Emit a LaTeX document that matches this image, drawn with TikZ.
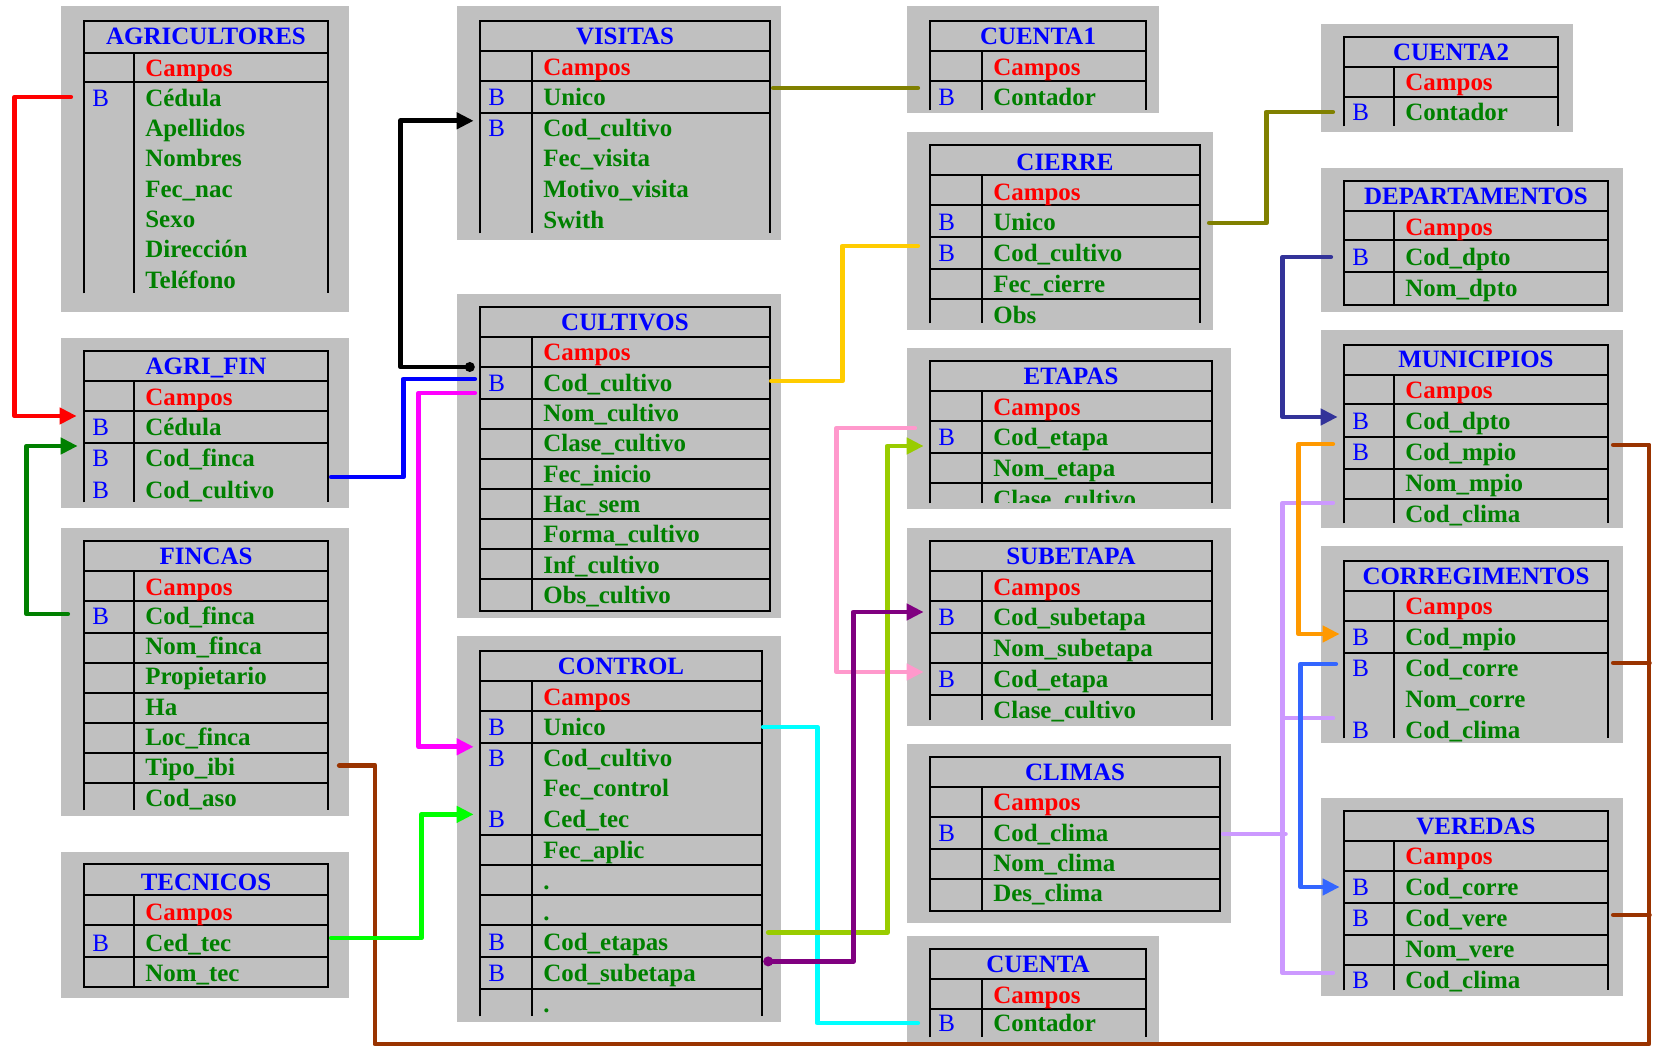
\documentclass[tikz,border=0pt]{standalone}
\usepackage{fontspec}
\setmainfont{Liberation Serif}[Scale=1.42]
\usetikzlibrary{arrows.meta,calc,fit}
\definecolor{tabgray}{RGB}{192,192,192}
\definecolor{ttlblue}{RGB}{0,0,255}
\definecolor{hdrred}{RGB}{255,0,0}
\definecolor{fldgreen}{RGB}{0,128,0}
\definecolor{lnred}{RGB}{255,0,0}
\definecolor{lngreen}{RGB}{0,128,0}
\definecolor{lnblue}{RGB}{0,0,255}
\definecolor{lnmagenta}{RGB}{255,0,255}
\definecolor{lnlime}{RGB}{0,255,0}
\definecolor{lnbrown}{RGB}{153,51,0}
\definecolor{lnolive}{RGB}{128,128,0}
\definecolor{lnyellow}{RGB}{255,204,0}
\definecolor{lncyan}{RGB}{0,255,255}
\definecolor{lnygreen}{RGB}{153,204,0}
\definecolor{lnpurple}{RGB}{128,0,128}
\definecolor{lnpink}{RGB}{255,153,204}
\definecolor{lnnavy}{RGB}{51,51,153}
\definecolor{lnorange}{RGB}{255,153,0}
\definecolor{lnsky}{RGB}{51,102,255}
\definecolor{lnlilac}{RGB}{204,153,255}
\begin{document}
\begin{tikzpicture}[x=0.02cm, y=-0.02cm,
  panel/.style={fill=tabgray, inner sep=0pt},
  tabframe/.style={inner sep=0pt},
  gridln/.style={line width=1.1pt},
  ttl/.style={inner sep=0pt, font=\bfseries, text=ttlblue, text height=0.75em, text depth=0.09em},
  fld/.style={anchor=west, inner sep=0pt, font=\bfseries, text=fldgreen, text height=0.75em, text depth=0.09em},
  hdr/.style={fld, text=hdrred},
  bkey/.style={anchor=west, inner sep=0pt, text=ttlblue, text height=0.75em, text depth=0.09em},
  link/.style={line width=2.8pt, line cap=round, line join=round},
  arr/.style={-{Triangle[length=0.34cm, width=0.32cm]}},
  dotarr/.style={{Circle[length=5.5pt]}-{Triangle[length=0.34cm, width=0.32cm]}}]
\useasboundingbox (0,0) rectangle (1658,1047);

% AGRICULTORES
\node[panel, fit={(61,6) (349,312)}] (agri-bg) {};
\node[tabframe, fit={(84,21) (328,293)}] (agri) {};
\draw[gridln] (agri.south west) |- (agri.north east) -- (agri.south east);
\draw[gridln] (84,53) -- (328,53) (84,82) -- (328,82) (134,53) -- (134,293);
\node[ttl] (agri-t) at (206,36) {AGRICULTORES};
\node[hdr] (agri-c) at (145,68) {Campos};
\foreach \k/\f [count=\i] in {B/Cédula, /Apellidos, /Nombres, /Fec\_nac, /Sexo, /Dirección, /Teléfono}
  {\node[bkey] (agri-b\i) at (92,{98+30.3*(\i-1)}) {\k};
   \node[fld] (agri-\i) at (145,{98+30.3*(\i-1)}) {\f};}

% AGRI_FIN
\node[panel, fit={(61,338) (349,508)}] (agrifin-bg) {};
\node[tabframe, fit={(84,351) (328,502)}] (agrifin) {};
\draw[gridln] (agrifin.south west) |- (agrifin.north east) -- (agrifin.south east);
\draw[gridln] (84,381) -- (328,381) (84,411) -- (328,411) (84,443) -- (328,443) (134,381) -- (134,502);
\node[ttl] (agrifin-t) at (206,366) {AGRI\_FIN};
\node[hdr] (agrifin-c) at (145,397) {Campos};
\foreach \k/\f [count=\i] in {B/Cédula, B/Cod\_finca, B/Cod\_cultivo}
  {\node[bkey] (agrifin-b\i) at (92,{427+31.5*(\i-1)}) {\k};
   \node[fld] (agrifin-\i) at (145,{427+31.5*(\i-1)}) {\f};}

% FINCAS
\node[panel, fit={(61,528) (349,816)}] (fincas-bg) {};
\node[tabframe, fit={(84,541) (328,810)}] (fincas) {};
\draw[gridln] (fincas.south west) |- (fincas.north east) -- (fincas.south east);
\draw[gridln] (84,571) -- (328,571) (84,601) -- (328,601) (84,633) -- (328,633) (84,663) -- (328,663)
  (84,693) -- (328,693) (84,723) -- (328,723) (84,753) -- (328,753) (84,783) -- (328,783) (134,571) -- (134,810);
\node[ttl] (fincas-t) at (206,556) {FINCAS};
\node[hdr] (fincas-c) at (145,587) {Campos};
\foreach \k/\f [count=\i] in {B/Cod\_finca, /Nom\_finca, /Propietario, /Ha, /Loc\_finca, /Tipo\_ibi, /Cod\_aso}
  {\node[bkey] (fincas-b\i) at (92,{616+30.3*(\i-1)}) {\k};
   \node[fld] (fincas-\i) at (145,{616+30.3*(\i-1)}) {\f};}

% TECNICOS
\node[panel, fit={(61,852) (349,998)}] (tecnicos-bg) {};
\node[tabframe, fit={(84,864) (328,987)}] (tecnicos) {};
\draw[gridln] (tecnicos.south west) rectangle (tecnicos.north east);
\draw[gridln] (84,895) -- (328,895) (84,925) -- (328,925) (84,957) -- (328,957) (134,895) -- (134,987);
\node[ttl] (tecnicos-t) at (206,882) {TECNICOS};
\node[hdr] (tecnicos-c) at (145,912) {Campos};
\foreach \k/\f [count=\i] in {B/Ced\_tec, /Nom\_tec}
  {\node[bkey] (tecnicos-b\i) at (92,{943+30*(\i-1)}) {\k};
   \node[fld] (tecnicos-\i) at (145,{943+30*(\i-1)}) {\f};}

% VISITAS
\node[panel, fit={(457,6) (781,240)}] (visitas-bg) {};
\node[tabframe, fit={(480,21) (770,233)}] (visitas) {};
\draw[gridln] (visitas.south west) |- (visitas.north east) -- (visitas.south east);
\draw[gridln] (480,51) -- (770,51) (480,81) -- (770,81) (480,113) -- (770,113) (532,51) -- (532,233);
\node[ttl] (visitas-t) at (625,36) {VISITAS};
\node[hdr] (visitas-c) at (543,67) {Campos};
\foreach \k/\f [count=\i] in {B/Unico, B/Cod\_cultivo, /Fec\_visita, /Motivo\_visita, /Swith}
  {\node[bkey] (visitas-b\i) at (488,{97+30.8*(\i-1)}) {\k};
   \node[fld] (visitas-\i) at (543,{97+30.8*(\i-1)}) {\f};}

% CULTIVOS
\node[panel, fit={(457,294) (781,618)}] (cultivos-bg) {};
\node[tabframe, fit={(480,307) (770,611)}] (cultivos) {};
\draw[gridln] (cultivos.south west) rectangle (cultivos.north east);
\draw[gridln] (480,337) -- (770,337) (480,367) -- (770,367) (480,399) -- (770,399) (480,429) -- (770,429)
  (480,459) -- (770,459) (480,489) -- (770,489) (480,519) -- (770,519) (480,549) -- (770,549)
  (480,579) -- (770,579) (532,337) -- (532,611);
\node[ttl] (cultivos-t) at (625,322) {CULTIVOS};
\node[hdr] (cultivos-c) at (543,352) {Campos};
\foreach \k/\f [count=\i] in {B/Cod\_cultivo, /Nom\_cultivo, /Clase\_cultivo, /Fec\_inicio, /Hac\_sem, /Forma\_cultivo, /Inf\_cultivo, /Obs\_cultivo}
  {\node[bkey] (cultivos-b\i) at (488,{383+30.3*(\i-1)}) {\k};
   \node[fld] (cultivos-\i) at (543,{383+30.3*(\i-1)}) {\f};}

% CONTROL
\node[panel, fit={(457,636) (781,1022)}] (control-bg) {};
\node[tabframe, fit={(480,651) (762,1016)}] (control) {};
\draw[gridln] (control.south west) |- (control.north east) -- (control.south east);
\draw[gridln] (480,681) -- (762,681) (480,711) -- (762,711) (480,743) -- (762,743) (480,835) -- (762,835)
  (480,865) -- (762,865) (480,895) -- (762,895) (480,925) -- (762,925) (480,957) -- (762,957)
  (480,989) -- (762,989) (532,681) -- (532,1016);
\node[ttl] (control-t) at (621,666) {CONTROL};
\node[hdr] (control-c) at (543,697) {Campos};
\foreach \k/\f [count=\i] in {B/Unico, B/Cod\_cultivo, /Fec\_control, B/Ced\_tec, /Fec\_aplic, /., /., B/Cod\_etapas, B/Cod\_subetapa, /.}
  {\node[bkey] (control-b\i) at (488,{727+30.8*(\i-1)}) {\k};
   \node[fld] (control-\i) at (543,{727+30.8*(\i-1)}) {\f};}

% CUENTA1
\node[panel, fit={(907,6) (1159,113)}] (cuenta1-bg) {};
\node[tabframe, fit={(930,21) (1146,110)}] (cuenta1) {};
\draw[gridln] (cuenta1.south west) |- (cuenta1.north east) -- (cuenta1.south east);
\draw[gridln] (930,51) -- (1146,51) (930,81) -- (1146,81) (982,51) -- (982,110);
\node[ttl] (cuenta1-t) at (1038,36) {CUENTA1};
\node[hdr] (cuenta1-c) at (993,67) {Campos};
\node[bkey] (cuenta1-b1) at (938,97) {B};
\node[fld] (cuenta1-1) at (993,97) {Contador};

% CIERRE
\node[panel, fit={(907,132) (1213,330)}] (cierre-bg) {};
\node[tabframe, fit={(930,145) (1200,323)}] (cierre) {};
\draw[gridln] (cierre.south west) |- (cierre.north east) -- (cierre.south east);
\draw[gridln] (930,175) -- (1200,175) (930,205) -- (1200,205) (930,237) -- (1200,237) (930,269) -- (1200,269)
  (930,299) -- (1200,299) (982,175) -- (982,323);
\node[ttl] (cierre-t) at (1065,162) {CIERRE};
\node[hdr] (cierre-c) at (993,192) {Campos};
\foreach \k/\f [count=\i] in {B/Unico, B/Cod\_cultivo, /Fec\_cierre, /Obs}
  {\node[bkey] (cierre-b\i) at (938,{222+31*(\i-1)}) {\k};
   \node[fld] (cierre-\i) at (993,{222+31*(\i-1)}) {\f};}

% ETAPAS
\node[panel, fit={(907,348) (1231,509)}] (etapas-bg) {};
\node[tabframe, fit={(930,361) (1212,503)}] (etapas) {};
\draw[gridln] (etapas.south west) |- (etapas.north east) -- (etapas.south east);
\draw[gridln] (930,391) -- (1212,391) (930,421) -- (1212,421) (930,453) -- (1212,453) (930,483) -- (1212,483)
  (982,391) -- (982,503);
\node[ttl] (etapas-t) at (1071,376) {ETAPAS};
\node[hdr] (etapas-c) at (993,407) {Campos};
\begin{scope}
  \clip (907,348) rectangle (1231,503);
  \foreach \k/\f [count=\i] in {B/Cod\_etapa, /Nom\_etapa, /Clase\_cultivo}
    {\node[bkey] (etapas-b\i) at (938,{437+31*(\i-1)}) {\k};
     \node[fld] (etapas-\i) at (993,{437+31*(\i-1)}) {\f};}
\end{scope}

% SUBETAPA
\node[panel, fit={(907,528) (1231,726)}] (subetapa-bg) {};
\node[tabframe, fit={(930,541) (1212,720)}] (subetapa) {};
\draw[gridln] (subetapa.south west) |- (subetapa.north east) -- (subetapa.south east);
\draw[gridln] (930,571) -- (1212,571) (930,601) -- (1212,601) (930,633) -- (1212,633) (930,663) -- (1212,663)
  (930,695) -- (1212,695) (982,571) -- (982,720);
\node[ttl] (subetapa-t) at (1071,556) {SUBETAPA};
\node[hdr] (subetapa-c) at (993,587) {Campos};
\foreach \k/\f [count=\i] in {B/Cod\_subetapa, /Nom\_subetapa, B/Cod\_etapa, /Clase\_cultivo}
  {\node[bkey] (subetapa-b\i) at (938,{617+31*(\i-1)}) {\k};
   \node[fld] (subetapa-\i) at (993,{617+31*(\i-1)}) {\f};}

% CLIMAS
\node[panel, fit={(907,744) (1231,923)}] (climas-bg) {};
\node[tabframe, fit={(930,757) (1220,911)}] (climas) {};
\draw[gridln] (climas.south west) rectangle (climas.north east);
\draw[gridln] (930,787) -- (1220,787) (930,817) -- (1220,817) (930,849) -- (1220,849) (930,879) -- (1220,879)
  (982,787) -- (982,911);
\node[ttl] (climas-t) at (1075,772) {CLIMAS};
\node[hdr] (climas-c) at (993,802) {Campos};
\foreach \k/\f [count=\i] in {B/Cod\_clima, /Nom\_clima, /Des\_clima}
  {\node[bkey] (climas-b\i) at (938,{833+30*(\i-1)}) {\k};
   \node[fld] (climas-\i) at (993,{833+30*(\i-1)}) {\f};}

% CUENTA
\node[panel, fit={(907,936) (1159,1042)}] (cuenta-bg) {};
\node[tabframe, fit={(930,949) (1146,1037)}] (cuenta) {};
\draw[gridln] (cuenta.south west) |- (cuenta.north east) -- (cuenta.south east);
\draw[gridln] (930,979) -- (1146,979) (930,1009) -- (1146,1009) (982,979) -- (982,1037);
\node[ttl] (cuenta-t) at (1038,964) {CUENTA};
\node[hdr] (cuenta-c) at (993,995) {Campos};
\node[bkey] (cuenta-b1) at (938,1023) {B};
\node[fld] (cuenta-1) at (993,1023) {Contador};

% CUENTA2
\node[panel, fit={(1321,24) (1573,132)}] (cuenta2-bg) {};
\node[tabframe, fit={(1344,37) (1558,126)}] (cuenta2) {};
\draw[gridln] (cuenta2.south west) |- (cuenta2.north east) -- (cuenta2.south east);
\draw[gridln] (1344,67) -- (1558,67) (1344,97) -- (1558,97) (1394,67) -- (1394,126);
\node[ttl] (cuenta2-t) at (1451,52) {CUENTA2};
\node[hdr] (cuenta2-c) at (1405,82) {Campos};
\node[bkey] (cuenta2-b1) at (1352,112) {B};
\node[fld] (cuenta2-1) at (1405,112) {Contador};

% DEPARTAMENTOS
\node[panel, fit={(1321,168) (1623,312)}] (dptos-bg) {};
\node[tabframe, fit={(1344,181) (1608,305)}] (dptos) {};
\draw[gridln] (dptos.south west) rectangle (dptos.north east);
\draw[gridln] (1344,211) -- (1608,211) (1344,240) -- (1608,240) (1344,272) -- (1608,272) (1394,211) -- (1394,305);
\node[ttl] (dptos-t) at (1476,196) {DEPARTAMENTOS};
\node[hdr] (dptos-c) at (1405,227) {Campos};
\foreach \k/\f [count=\i] in {B/Cod\_dpto, /Nom\_dpto}
  {\node[bkey] (dptos-b\i) at (1352,{257+31*(\i-1)}) {\k};
   \node[fld] (dptos-\i) at (1405,{257+31*(\i-1)}) {\f};}

% MUNICIPIOS
\node[panel, fit={(1321,330) (1623,528)}] (mpios-bg) {};
\node[tabframe, fit={(1344,345) (1608,523)}] (mpios) {};
\draw[gridln] (mpios.south west) |- (mpios.north east) -- (mpios.south east);
\draw[gridln] (1344,375) -- (1608,375) (1344,404) -- (1608,404) (1344,437) -- (1608,437) (1344,469) -- (1608,469)
  (1344,499) -- (1608,499) (1394,375) -- (1394,523);
\node[ttl] (mpios-t) at (1476,359) {MUNICIPIOS};
\node[hdr] (mpios-c) at (1405,390) {Campos};
\foreach \k/\f [count=\i] in {B/Cod\_dpto, B/Cod\_mpio, /Nom\_mpio, /Cod\_clima}
  {\node[bkey] (mpios-b\i) at (1352,{421+31*(\i-1)}) {\k};
   \node[fld] (mpios-\i) at (1405,{421+31*(\i-1)}) {\f};}

% CORREGIMENTOS
\node[panel, fit={(1321,546) (1623,743)}] (corregs-bg) {};
\node[tabframe, fit={(1344,561) (1608,738)}] (corregs) {};
\draw[gridln] (corregs.south west) |- (corregs.north east) -- (corregs.south east);
\draw[gridln] (1344,591) -- (1608,591) (1344,621) -- (1608,621) (1344,653) -- (1608,653) (1394,591) -- (1394,738);
\node[ttl] (corregs-t) at (1476,576) {CORREGIMENTOS};
\node[hdr] (corregs-c) at (1405,606) {Campos};
\foreach \k/\f [count=\i] in {B/Cod\_mpio, B/Cod\_corre, /Nom\_corre, B/Cod\_clima}
  {\node[bkey] (corregs-b\i) at (1352,{637+31*(\i-1)}) {\k};
   \node[fld] (corregs-\i) at (1405,{637+31*(\i-1)}) {\f};}

% VEREDAS
\node[panel, fit={(1321,798) (1623,996)}] (veredas-bg) {};
\node[tabframe, fit={(1344,811) (1608,990)}] (veredas) {};
\draw[gridln] (veredas.south west) |- (veredas.north east) -- (veredas.south east);
\draw[gridln] (1344,841) -- (1608,841) (1344,871) -- (1608,871) (1344,903) -- (1608,903) (1344,935) -- (1608,935)
  (1344,965) -- (1608,965) (1394,841) -- (1394,990);
\node[ttl] (veredas-t) at (1476,826) {VEREDAS};
\node[hdr] (veredas-c) at (1405,856) {Campos};
\foreach \k/\f [count=\i] in {B/Cod\_corre, B/Cod\_vere, /Nom\_vere, B/Cod\_clima}
  {\node[bkey] (veredas-b\i) at (1352,{887+31*(\i-1)}) {\k};
   \node[fld] (veredas-\i) at (1405,{887+31*(\i-1)}) {\f};}

% relaciones
\coordinate (busL) at (375,1044);
\coordinate (busR) at (1649,1044);
\draw[link, lnred, arr] ($(agri-1 -| agri.west)+(-13,-1)$) -- ++(-56,0) |- ($(agrifin-1 -| agrifin.west)+(-7,-11)$);
\draw[link, lngreen, arr] ($(fincas-1 -| fincas.west)+(-16,-2)$) -- ++(-41,0) |- ($(agrifin-2 -| agrifin.west)+(-6,-12.5)$);
\draw[link, lnblue] ($(agrifin-3 -| agrifin.east)+(3,-13)$) -- ++(72,0) |- ($(cultivos-1 -| cultivos.west)+(-5,-4)$);
\draw[link, lnmagenta, arr] ($(cultivos-1 -| cultivos.west)+(-5,10)$) -- ++(-56,0) |- ($(control-2 -| control.west)+(-6,-11)$);
\draw[link, black, dotarr] ($(cultivos-1 -| cultivos.west)+(-5,-16)$) -- ++(-74,0) |- ($(visitas-2 -| visitas.west)+(-6,-7)$);
\draw[link, lnbrown] ($(fincas-6 -| fincas.east)+(11,-2)$) -| (busL) -- (busR) |- ($(mpios-2 -| mpios.east)+(5,-7)$);
\draw[link, lnbrown] ($(corregs-2 -| corregs.east)+(5,-5)$) -- ++(36,0);
\draw[link, lnbrown] ($(veredas-2 -| veredas.east)+(5,-3)$) -- ++(36,0);
\draw[link, lnlime, arr] ($(tecnicos-1 -| tecnicos.east)+(3,-5)$) -- ++(90,0) |- ($(control-4 -| control.west)+(-6,-5)$);
\draw[link, lnolive] ($(visitas-1 -| visitas.east)+(3,-9)$) -- ($(cuenta1-1 -| cuenta1.west)+(-12,-9)$);
\draw[link, lnyellow] ($(cultivos-1 -| cultivos.east)+(1,-2)$) -- ++(71,0) |- ($(cierre-2 -| cierre.west)+(-12,-7)$);
\draw[link, lnolive] ($(cierre-1 -| cierre.east)+(9,1)$) -- ++(57,0) |- ($(cuenta2-1 -| cuenta2.west)+(-11,0)$);
\draw[link, lnpink, arr] ($(etapas-1 -| etapas.west)+(-15,-9)$) -- ++(-78,0) |- ($(subetapa-3 -| subetapa.west)+(-6,-7)$);
\draw[link, lncyan] ($(control-1 -| control.east)+(1,0)$) -- ++(54,0) |- ($(cuenta-1 -| cuenta.west)+(-12,0)$);
\draw[link, lnygreen, arr] ($(control-8 -| control.east)+(6,-10)$) -- ++(119,0) |- ($(etapas-1 -| etapas.west)+(-6,9)$);
\draw[link, lnpurple, dotarr] ($(control-9 -| control.east)+(1,-12)$) -- ++(90,0) |- ($(subetapa-1 -| subetapa.west)+(-6,-5)$);
\draw[link, lnnavy, arr] ($(dptos-1 -| dptos.west)+(-13,0)$) -- ++(-48,0) |- ($(mpios-1 -| mpios.west)+(-6,-4)$);
\draw[link, lnlilac] ($(mpios-4 -| mpios.west)+(-11,-11)$) -- ++(-50,0) |- ($(veredas-4 -| veredas.west)+(-11,-7)$);
\draw[link, lnlilac] ($(corregs-4 -| corregs.west)+(-11,-12)$) -- ++(-50,0);
\draw[link, lnlilac] ($(climas-1 -| climas.east)+(3,1)$) -- ++(62,0);
\draw[link, lnorange, arr] ($(mpios-2 -| mpios.west)+(-11,-8)$) -- ++(-34,0) |- ($(corregs-1 -| corregs.west)+(-4,-3)$);
\draw[link, lnsky, arr] ($(corregs-2 -| corregs.west)+(-8,-4)$) -- ++(-35,0) |- ($(veredas-1 -| veredas.west)+(-4,0)$);
\end{tikzpicture}
\end{document}
